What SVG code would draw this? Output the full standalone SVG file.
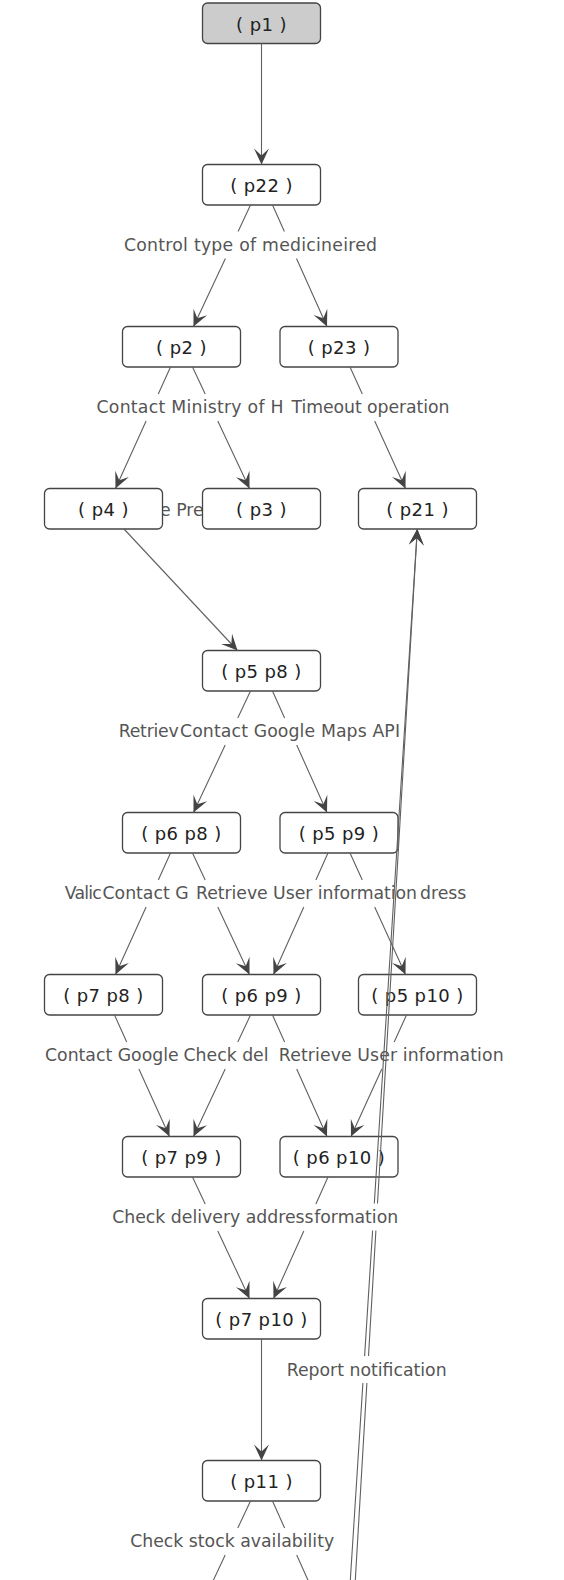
<svg xmlns="http://www.w3.org/2000/svg" width="564" height="1580" viewBox="0 0 564 1580">
<style>
.node rect{fill:#fff;stroke:#444;stroke-width:1.3}
.node.start rect{fill:#ccc}
.node text{font-family:"DejaVu Sans",sans-serif;font-size:18px;letter-spacing:0.4px;fill:#222;text-anchor:middle}
.lbl{font-family:"DejaVu Sans",sans-serif;font-size:17.3px;fill:#555}
.edge{fill:none;stroke:#606060;stroke-width:1.1;marker-end:url(#ah)}
</style>
<defs>
<marker id="ah" markerUnits="userSpaceOnUse" markerWidth="20" markerHeight="20" refX="0" refY="0" orient="auto" overflow="visible">
<path d="M0,0 L-16,-7.5 L-9,0 L-16,7.5 Z" fill="#444"/>
</marker>
</defs>
<rect width="564" height="1580" fill="#fff"/>
<g id="labels">
<text class="lbl" x="124" y="250.5" textLength="253" lengthAdjust="spacing">Control type of medicineired</text>
<text class="lbl" x="96.5" y="413" textLength="187" lengthAdjust="spacing">Contact Ministry of H</text>
<text class="lbl" x="291.5" y="413" textLength="158" lengthAdjust="spacing">Timeout operation</text>
<text class="lbl" x="160" y="516">e Pre</text>
<text class="lbl" x="118.7" y="737" textLength="60" lengthAdjust="spacing">Retriev</text>
<text class="lbl" x="180" y="737" textLength="220" lengthAdjust="spacing">Contact Google Maps API</text>
<text class="lbl" x="64.7" y="899" textLength="37" lengthAdjust="spacing">Valic</text>
<text class="lbl" x="102.5" y="899">Contact G</text>
<text class="lbl" x="196" y="899" textLength="221" lengthAdjust="spacing">Retrieve User information</text>
<text class="lbl" x="420" y="899">dress</text>
<text class="lbl" x="45" y="1061">Contact Google</text>
<text class="lbl" x="183.5" y="1061">Check del</text>
<text class="lbl" x="278.8" y="1061" textLength="224.8" lengthAdjust="spacing">Retrieve User information</text>
<text class="lbl" x="112.2" y="1223">Check delivery address</text>
<text class="lbl" x="314.2" y="1223">formation</text>
<text class="lbl" x="286.7" y="1376">Report notification</text>
<text class="lbl" x="130.2" y="1547">Check stock availability</text>
</g>
<g id="nodes">
<g id="p1" class="node start"><rect x="202.5" y="3" width="118" height="40.5" rx="5"/><text x="261.5" y="30.8">( p1 )</text></g>
<g id="p22" class="node"><rect x="202.5" y="164.5" width="118" height="40.5" rx="5"/><text x="261.5" y="192.3">( p22 )</text></g>
<g id="p2" class="node"><rect x="122.5" y="326.5" width="118" height="40.5" rx="5"/><text x="181.5" y="354.3">( p2 )</text></g>
<g id="p23" class="node"><rect x="280" y="326.5" width="118" height="40.5" rx="5"/><text x="339" y="354.3">( p23 )</text></g>
<g id="p4" class="node"><rect x="44.5" y="488.5" width="118" height="40.5" rx="5"/><text x="103.5" y="516.3">( p4 )</text></g>
<g id="p3" class="node"><rect x="202.5" y="488.5" width="118" height="40.5" rx="5"/><text x="261.5" y="516.3">( p3 )</text></g>
<g id="p21" class="node"><rect x="358.5" y="488.5" width="118" height="40.5" rx="5"/><text x="417.5" y="516.3">( p21 )</text></g>
<g id="p5p8" class="node"><rect x="202.5" y="650.5" width="118" height="40.5" rx="5"/><text x="261.5" y="678.3">( p5 p8 )</text></g>
<g id="p6p8" class="node"><rect x="122.5" y="812.5" width="118" height="40.5" rx="5"/><text x="181.5" y="840.3">( p6 p8 )</text></g>
<g id="p5p9" class="node"><rect x="280" y="812.5" width="118" height="40.5" rx="5"/><text x="339" y="840.3">( p5 p9 )</text></g>
<g id="p7p8" class="node"><rect x="44.5" y="974.5" width="118" height="40.5" rx="5"/><text x="103.5" y="1002.3">( p7 p8 )</text></g>
<g id="p6p9" class="node"><rect x="202.5" y="974.5" width="118" height="40.5" rx="5"/><text x="261.5" y="1002.3">( p6 p9 )</text></g>
<g id="p5p10" class="node"><rect x="358.5" y="974.5" width="118" height="40.5" rx="5"/><text x="417.5" y="1002.3">( p5 p10 )</text></g>
<g id="p7p9" class="node"><rect x="122.5" y="1136.5" width="118" height="40.5" rx="5"/><text x="181.5" y="1164.3">( p7 p9 )</text></g>
<g id="p6p10" class="node"><rect x="280" y="1136.5" width="118" height="40.5" rx="5"/><text x="339" y="1164.3">( p6 p10 )</text></g>
<g id="p7p10" class="node"><rect x="202.5" y="1298.5" width="118" height="40.5" rx="5"/><text x="261.5" y="1326.3">( p7 p10 )</text></g>
<g id="p11" class="node"><rect x="202.5" y="1460.5" width="118" height="40.5" rx="5"/><text x="261.5" y="1488.3">( p11 )</text></g>
</g>
<g id="connectors">
<path class="edge" d="M261.5,43.5 L261.5,164.5"/>
<path class="edge" d="M250.5,205 L238.1,231.5 M225.4,258.5 L193.5,326.5"/>
<path class="edge" d="M272.5,205 L284.4,231.5 M296.5,258.5 L327,326.5"/>
<path class="edge" d="M170.5,367 L158.3,394 M146.1,421 L115.5,488.5"/>
<path class="edge" d="M192.5,367 L205.2,394 M217.8,421 L249.5,488.5"/>
<path class="edge" d="M350,367 L362.3,394 M374.7,421 L405.5,488.5"/>
<path class="edge" d="M124,529 L237.5,650.5"/>
<path class="edge" d="M250.5,691 L237.8,718 M225.2,745 L193.5,812.5"/>
<path class="edge" d="M272.5,691 L284.6,718 M296.7,745 L327,812.5"/>
<path class="edge" d="M170.5,853 L158.3,880 M146.1,907 L115.5,974.5"/>
<path class="edge" d="M192.5,853 L205.2,880 M217.8,907 L249.5,974.5"/>
<path class="edge" d="M328,853 L315.9,880 M303.8,907 L273.5,974.5"/>
<path class="edge" d="M350,853 L362.3,880 M374.7,907 L405.5,974.5"/>
<path class="edge" d="M114.5,1015 L126.7,1042 M138.9,1069 L169.5,1136.5"/>
<path class="edge" d="M250.5,1015 L237.8,1042 M225.2,1069 L193.5,1136.5"/>
<path class="edge" d="M272.5,1015 L284.6,1042 M296.7,1069 L327,1136.5"/>
<path class="edge" d="M406.5,1015 L394.2,1042 M381.8,1069 L351,1136.5"/>
<path class="edge" d="M192.5,1177 L205.2,1204 M217.8,1231 L249.5,1298.5"/>
<path class="edge" d="M328,1177 L315.9,1204 M303.8,1231 L273.5,1298.5"/>
<path class="edge" d="M261.5,1339 L261.5,1460.5"/>
<path class="edge" d="M250.5,1501 L237.8,1528 M225.2,1555 L193.5,1622.5"/>
<path class="edge" d="M272.5,1501 L284.6,1528 M296.7,1555 L327,1622.5"/>
<path class="edge" d="M350,1585 L362.9,1383 M364.6,1356 L372.6,1230.5 M374.3,1203.5 L417.3,529"/>
<path class="edge" d="M355,1585 L366.9,1383 M368.5,1356 L375.9,1230.5 M377.5,1203.5 L417.3,529"/>
</g>
</svg>
